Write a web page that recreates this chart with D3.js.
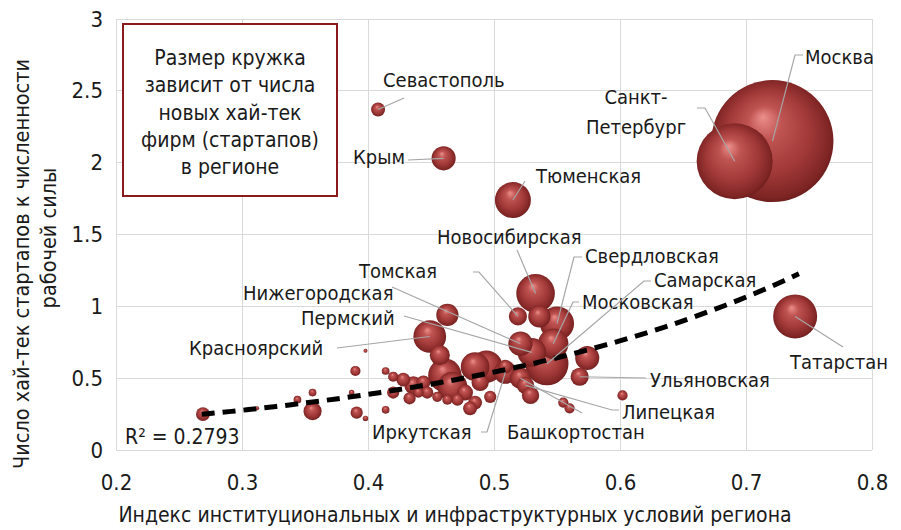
<!DOCTYPE html>
<html><head><meta charset="utf-8">
<script src="https://cdn.jsdelivr.net/npm/d3@7"></script>
<style>
html,body{margin:0;padding:0;background:#fff;}
text{font-family:"DejaVu Sans Condensed","DejaVu Sans",sans-serif;font-stretch:condensed;fill:#1a1a1a;}
</style></head>
<body><svg id="chart" width="901" height="530"></svg>
<script>
// ---- data ----
const names = ["Москва","Санкт-Петербург","Татарстан","Тюменская","Крым","Севастополь","Новосибирская","Свердловская","Московская","Самарская","Томская","Нижегородская","Пермский","Красноярский","Ульяновская","Липецкая","Башкортостан","Иркутская",
 "","","","","","","","","","","","","","","","","","","","","","","","","","","","","","","","","","","","","","","","","",""];
const indexValues = [0.721,0.691,0.739,0.515,0.460,0.408,0.533,0.550,0.547,0.542,0.519,0.521,0.530,0.449,0.568,0.525,0.521,0.509,
 0.536,0.463,0.574,0.602,0.555,0.560,0.269,0.312,0.344,0.356,0.356,0.390,0.398,0.387,0.391,0.398,0.414,0.414,
 0.457,0.461,0.467,0.477,0.485,0.494,0.485,0.497,0.489,0.428,0.436,0.444,0.433,0.440,0.447,0.455,0.463,0.471,0.481,0.420,0.420,0.509,0.529];
const startupRatio = [2.15,2.01,0.93,1.74,2.03,2.37,1.09,0.88,0.74,0.60,0.93,0.74,0.68,0.79,0.51,0.45,0.50,0.54,
 0.93,0.94,0.64,0.38,0.33,0.29,0.25,0.29,0.35,0.40,0.27,0.55,0.69,0.40,0.26,0.22,0.55,0.28,
 0.66,0.52,0.44,0.40,0.58,0.58,0.33,0.37,0.47,0.49,0.45,0.47,0.36,0.40,0.40,0.37,0.35,0.35,0.29,0.51,0.40,0.58,0.38];
const newFirms = [1000,388,130,87,39,13,100,78,62,125,22,40,55,72,22,20,30,35,
 33,33,39,7,7,7,13,1,4,4,22,7,1,2,10,2,4,4,
 27,75,60,17,55,70,13,10,20,13,22,13,10,7,10,7,7,10,13,7,10,13,20];
const xTicks = [0.2,0.3,0.4,0.5,0.6,0.7,0.8];
const yTicks = [0,0.5,1,1.5,2,2.5,3];
const trend = {a:0.1006, b:3.37, from:0.268, to:0.742};
const r2Text = "R² = 0.2793";
const noteLines = ["Размер кружка","зависит от числа","новых хай-тек","фирм (стартапов)","в регионе"];
const xTitle = "Индекс институциональных и инфраструктурных условий региона";
const yTitle = ["Число хай-тек стартапов к численности","рабочей силы"];

// ---- label layout (pixels) ----
const labelLayout = {
 "Москва":{x:805,y:57,anchor:"start",pts:[[803,55],[795,55]]},
 "Санкт-Петербург":{x:636,y:97,anchor:"middle",lines:["Санкт-","Петербург"],pts:[[697,108],[705,108]]},
 "Татарстан":{x:790,y:362,anchor:"start",pts:[[843,347]]},
 "Тюменская":{x:536,y:176,anchor:"start",pts:[[525,181]]},
 "Крым":{x:405,y:157,anchor:"end",pts:[[408,160]]},
 "Севастополь":{x:383,y:80,anchor:"start",pts:[[404,98]]},
 "Новосибирская":{x:437,y:237,anchor:"start",pts:[[517,250]]},
 "Свердловская":{x:585,y:256,anchor:"start",pts:[[582,257],[574,257]]},
 "Московская":{x:582,y:302,anchor:"start",pts:[[579,302],[573,302]]},
 "Самарская":{x:654,y:280,anchor:"start",pts:[[651,281],[644,281]]},
 "Томская":{x:359,y:271,anchor:"start",pts:[[473,272],[479,272]]},
 "Нижегородская":{x:243,y:293,anchor:"start",pts:[[392,287]]},
 "Пермский":{x:301,y:318,anchor:"start",pts:[[404,316]]},
 "Красноярский":{x:189,y:348,anchor:"start",pts:[[337,348]]},
 "Ульяновская":{x:650,y:380,anchor:"start",pts:[[646,378]]},
 "Липецкая":{x:622,y:412,anchor:"start",pts:[[619,410],[612,410]]},
 "Башкортостан":{x:507,y:432,anchor:"start",pts:[[582,413]]},
 "Иркутская":{x:372,y:432,anchor:"start",pts:[[481,432],[487,432]]}
};

const plot={left:116,right:872,top:19,bottom:450};
const svg=d3.select("#chart");
const x=d3.scaleLinear().domain([0.2,0.8]).range([plot.left,plot.right]);
const y=d3.scaleLinear().domain([0,3]).range([plot.bottom,plot.top]);
const r=d3.scaleSqrt().domain([0,1000]).range([0,61]);

// gradient
const defs=svg.append("defs");
const g=defs.append("radialGradient").attr("id","ball").attr("cx","50%").attr("cy","50%").attr("r","55%").attr("fx","42%").attr("fy","30%");
[["0%","#ec8f8c"],["25%","#bf5452"],["60%","#a23a39"],["88%","#7e2524"],["100%","#5a1515"]].forEach(s=>g.append("stop").attr("offset",s[0]).attr("stop-color",s[1]));

// grid
const grid=svg.append("g");
grid.selectAll("line.v").data(xTicks).join("line").attr("x1",d=>x(d)).attr("x2",d=>x(d)).attr("y1",plot.top).attr("y2",plot.bottom).attr("stroke","#d9d9d9").attr("stroke-width",1).attr("shape-rendering","crispEdges");
grid.selectAll("line.h").data(yTicks).join("line").attr("x1",plot.left).attr("x2",plot.right).attr("y1",d=>y(d)).attr("y2",d=>y(d)).attr("stroke","#d9d9d9").attr("stroke-width",1).attr("shape-rendering","crispEdges");

// axes
const xAxis=svg.append("g").attr("transform",`translate(0,${plot.bottom})`).call(d3.axisBottom(x).tickValues(xTicks).tickSize(0).tickPadding(24).tickFormat(d3.format(".1f")));
const yAxis=svg.append("g").attr("transform",`translate(${plot.left},0)`).call(d3.axisLeft(y).tickValues(yTicks).tickSize(0).tickPadding(13).tickFormat(d=>d===0?"0":String(d)));
[xAxis,yAxis].forEach(a=>{a.select(".domain").remove();a.selectAll("text").style("font-size","22px").attr("fill","#1a1a1a").style("font-family",null);});

// bubbles
const data=names.map((n,i)=>({name:n,x:indexValues[i],y:startupRatio[i],s:newFirms[i]}));
const sorted=data.slice().sort((a,b)=>b.s-a.s);
svg.append("g").selectAll("circle").data(sorted).join("circle")
 .attr("cx",d=>x(d.x)).attr("cy",d=>y(d.y)).attr("r",d=>Math.max(2,r(d.s))).attr("fill","url(#ball)");

// trend line
const tp=d3.range(0,41).map(i=>{const xv=trend.from+(trend.to-trend.from)*i/40;return [xv,trend.a*Math.exp(trend.b*xv)];});
svg.append("path").datum(tp).attr("d",d3.line().x(d=>x(d[0])).y(d=>y(d[1]))).attr("fill","none").attr("stroke","#000").attr("stroke-width",5).attr("stroke-dasharray","13,8");

// leaders and labels
const lg=svg.append("g");
data.filter(d=>d.name).forEach(d=>{
 const L=labelLayout[d.name];
 const pts=L.pts.concat([[x(d.x),y(d.y)]]);
 lg.append("path").attr("d",d3.line()(pts)).attr("fill","none").attr("stroke","#a6a6a6").attr("stroke-width",1.2);
 const lines=L.lines||[d.name];
 lines.forEach((t,k)=>{
  lg.append("text").attr("x",L.x).attr("y",L.y+k*30).attr("text-anchor",L.anchor).attr("dominant-baseline","central").style("font-size","20px").text(t);
 });
});

// R2
svg.append("text").attr("x",125).attr("y",437).attr("dominant-baseline","central").style("font-size","21px").text(r2Text);

// note box
svg.append("rect").attr("x",123).attr("y",24).attr("width",214).attr("height",172).attr("fill","#fff").attr("stroke","#8b1a1a").attr("stroke-width",2);
noteLines.forEach((t,i)=>svg.append("text").attr("x",230).attr("y",58+i*27.3).attr("text-anchor","middle").attr("dominant-baseline","central").style("font-size","21px").text(t));

// axis titles
svg.append("text").attr("x",455).attr("y",515).attr("text-anchor","middle").attr("dominant-baseline","central").style("font-size","21px").text(xTitle);
yTitle.forEach((t,i)=>svg.append("text").attr("transform",`translate(${21+i*27},${i===0?264:238}) rotate(-90)`).attr("text-anchor","middle").attr("dominant-baseline","central").style("font-size","21.5px").text(t));
</script></body></html>
